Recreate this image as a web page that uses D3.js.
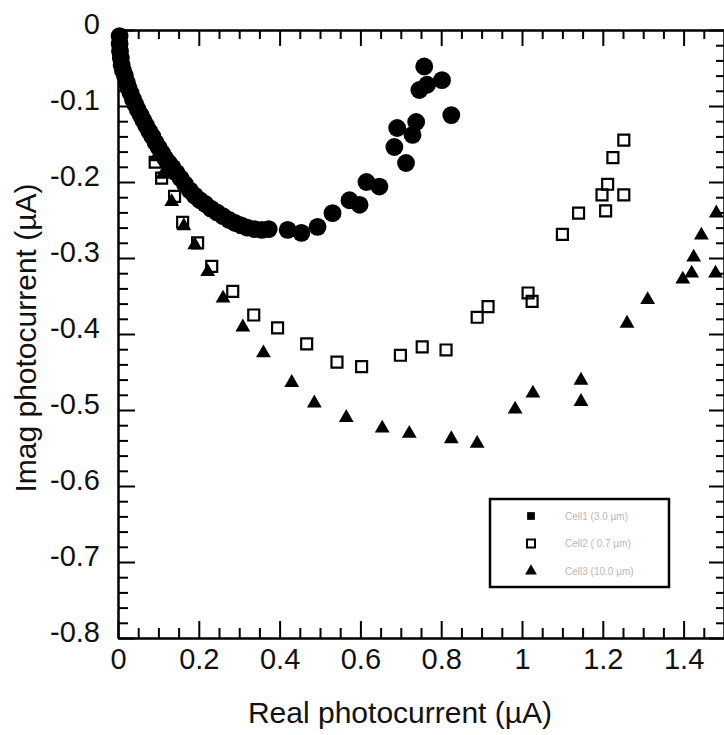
<!DOCTYPE html>
<html>
<head>
<meta charset="utf-8">
<script src="https://cdn.jsdelivr.net/npm/d3@7"></script>
<style>
  body { margin: 0; background: #fff; }
  text { font-family: "Liberation Sans", Arial, sans-serif; }
</style>
</head>
<body>
<div id="chart"></div>
<script>
// values: [real, imag] in µA
const cell1 = [
  [0.004,-0.008],[0.004,-0.018],[0.005,-0.028],[0.007,-0.037],[0.009,-0.046],[0.012,-0.053],
  [0.017,-0.06],[0.022,-0.069],[0.026,-0.076],[0.031,-0.083],[0.037,-0.091],[0.043,-0.098],
  [0.049,-0.105],[0.056,-0.112],[0.063,-0.119],[0.07,-0.126],[0.077,-0.133],[0.085,-0.14],
  [0.093,-0.148],[0.101,-0.155],[0.109,-0.162],[0.117,-0.169],[0.126,-0.175],[0.135,-0.181],
  [0.145,-0.188],[0.155,-0.195],[0.166,-0.203],[0.178,-0.211],[0.19,-0.218],[0.203,-0.224],
  [0.216,-0.229],[0.23,-0.235],[0.245,-0.24],[0.26,-0.245],[0.275,-0.25],[0.29,-0.254],
  [0.305,-0.257],[0.32,-0.26],[0.338,-0.262],[0.356,-0.263],[0.373,-0.262],
  [0.42,-0.263],[0.454,-0.267],[0.494,-0.259],[0.531,-0.241],[0.573,-0.224],[0.598,-0.23],
  [0.615,-0.2],[0.647,-0.206],[0.684,-0.154],[0.713,-0.175],[0.691,-0.129],[0.729,-0.138],
  [0.738,-0.121],[0.746,-0.079],[0.758,-0.048],[0.765,-0.072],[0.802,-0.066],[0.825,-0.112]
];
const cell2 = [
  [0.092,-0.174],[0.108,-0.195],[0.14,-0.219],[0.16,-0.253],[0.197,-0.28],[0.232,-0.311],
  [0.284,-0.344],[0.336,-0.375],[0.395,-0.392],[0.467,-0.413],[0.542,-0.437],[0.603,-0.443],
  [0.699,-0.428],[0.753,-0.417],[0.812,-0.421],[0.889,-0.378],[0.916,-0.364],[1.015,-0.346],
  [1.025,-0.357],[1.1,-0.269],[1.14,-0.241],[1.198,-0.217],[1.207,-0.238],[1.212,-0.203],
  [1.225,-0.168],[1.252,-0.145],[1.252,-0.217]
];
const cell3 = [
  [0.095,-0.167],[0.111,-0.19],[0.133,-0.226],[0.163,-0.258],[0.19,-0.283],[0.222,-0.318],
  [0.26,-0.353],[0.309,-0.391],[0.36,-0.425],[0.43,-0.464],[0.486,-0.491],[0.565,-0.51],
  [0.654,-0.524],[0.721,-0.531],[0.825,-0.538],[0.889,-0.544],[0.983,-0.499],[1.027,-0.478],
  [1.146,-0.461],[1.146,-0.489],[1.26,-0.386],[1.311,-0.355],[1.398,-0.328],[1.42,-0.32],
  [1.425,-0.299],[1.444,-0.27],[1.479,-0.32],[1.481,-0.241]
];
const xTicks = [0, 0.2, 0.4, 0.6, 0.8, 1, 1.2, 1.4];
const xMinor = [0.05,0.1,0.15,0.25,0.3,0.35,0.45,0.5,0.55,0.65,0.7,0.75,0.85,0.9,0.95,1.05,1.1,1.15,1.25,1.3,1.35,1.45];
const yTicks = [0, -0.1, -0.2, -0.3, -0.4, -0.5, -0.6, -0.7, -0.8];
const yMinor = [-0.02,-0.04,-0.06,-0.08,-0.12,-0.14,-0.16,-0.18,-0.22,-0.24,-0.26,-0.28,
  -0.32,-0.34,-0.36,-0.38,-0.42,-0.44,-0.46,-0.48,-0.52,-0.54,-0.56,-0.58,
  -0.62,-0.64,-0.66,-0.68,-0.72,-0.74,-0.76,-0.78];
const legendLabels = ["Cell1 (3.0 µm)", "Cell2 ( 0.7 µm)", "Cell3 (10.0 µm)"];

const W = 724, H = 735;
const svg = d3.select("#chart").append("svg")
  .attr("width", W).attr("height", H);

const x = d3.scaleLinear().domain([0, 1.5]).range([118, 724]);
const y = d3.scaleLinear().domain([-0.8, 0]).range([638, 30]);
const fmt = d => d === 0 ? "0" : String(d);

function styleAxis(g) {
  g.selectAll("path,line").attr("stroke", "#000").attr("stroke-width", 2);
}

// bottom axis (ticks pointing up into the plot)
svg.append("g").attr("transform", `translate(0,${y(-0.8)})`)
  .call(d3.axisTop(x).tickValues(xMinor).tickSize(10).tickSizeOuter(0).tickFormat(""))
  .call(styleAxis);
svg.append("g").attr("transform", `translate(0,${y(-0.8)})`)
  .call(d3.axisTop(x).tickValues(xTicks).tickSize(17).tickSizeOuter(0).tickFormat(""))
  .call(styleAxis);
svg.append("g").attr("transform", `translate(0,${y(-0.8)})`)
  .call(d3.axisBottom(x).tickValues(xTicks).tickSize(0).tickPadding(10).tickFormat(fmt))
  .call(g => g.select(".domain").remove())
  .call(g => g.selectAll("text").attr("font-size", 29).attr("fill", "#111")
    .attr("font-family", "'Liberation Sans', Arial, sans-serif"));

// top axis (ticks pointing down)
svg.append("g").attr("transform", `translate(0,${y(0)})`)
  .call(d3.axisBottom(x).tickValues(xMinor).tickSize(9).tickSizeOuter(0).tickFormat(""))
  .call(styleAxis);
svg.append("g").attr("transform", `translate(0,${y(0)})`)
  .call(d3.axisBottom(x).tickValues(xTicks).tickSize(16).tickSizeOuter(0).tickFormat(""))
  .call(styleAxis);

// left axis (ticks pointing right)
svg.append("g").attr("transform", `translate(${x(0)},0)`)
  .call(d3.axisRight(y).tickValues(yMinor).tickSize(10).tickSizeOuter(0).tickFormat(""))
  .call(styleAxis);
svg.append("g").attr("transform", `translate(${x(0)},0)`)
  .call(d3.axisRight(y).tickValues(yTicks).tickSize(17).tickSizeOuter(0).tickFormat(""))
  .call(styleAxis);
svg.append("g").attr("transform", `translate(${x(0) - 18},-6)`)
  .call(d3.axisLeft(y).tickValues(yTicks).tickSize(0).tickPadding(0).tickFormat(fmt))
  .call(g => g.select(".domain").remove())
  .call(g => g.selectAll("text").attr("font-size", 29).attr("fill", "#111")
    .attr("font-family", "'Liberation Sans', Arial, sans-serif"));

// right axis (ticks pointing left)
svg.append("g").attr("transform", `translate(${x(1.5)},0)`)
  .call(d3.axisLeft(y).tickValues(yMinor).tickSize(8).tickSizeOuter(0).tickFormat(""))
  .call(styleAxis);
svg.append("g").attr("transform", `translate(${x(1.5)},0)`)
  .call(d3.axisLeft(y).tickValues(yTicks).tickSize(15).tickSizeOuter(0).tickFormat(""))
  .call(styleAxis);

// axis titles
svg.append("text")
  .attr("x", 400).attr("y", 723)
  .attr("text-anchor", "middle")
  .attr("font-size", 30)
  .attr("fill", "#111")
  .text("Real photocurrent (µA)");
svg.append("text")
  .attr("transform", "translate(36,338) rotate(-90)")
  .attr("text-anchor", "middle")
  .attr("font-size", 30)
  .attr("fill", "#111")
  .text("Imag photocurrent (µA)");

// markers
const tri = d3.symbol().type(d3.symbolTriangle).size(95);
const sq = d3.symbol().type(d3.symbolSquare).size(120);
const circ = d3.symbol().type(d3.symbolCircle).size(250);

svg.append("g").selectAll("path").data(cell3).enter().append("path")
  .attr("d", tri)
  .attr("transform", d => `translate(${x(d[0])},${y(d[1])})`)
  .attr("fill", "#000");

svg.append("g").selectAll("path").data(cell2).enter().append("path")
  .attr("d", sq)
  .attr("transform", d => `translate(${x(d[0])},${y(d[1])})`)
  .attr("fill", "none")
  .attr("stroke", "#000")
  .attr("stroke-width", 2.2);

svg.append("g").selectAll("path").data(cell1).enter().append("path")
  .attr("d", circ)
  .attr("transform", d => `translate(${x(d[0])},${y(d[1])})`)
  .attr("fill", "#000");

// legend
const lg = svg.append("g");
lg.append("rect")
  .attr("x", 490).attr("y", 499)
  .attr("width", 179).attr("height", 88)
  .attr("fill", "#fff")
  .attr("stroke", "#000")
  .attr("stroke-width", 2.5);
const legSyms = [
  {s: d3.symbol().type(d3.symbolSquare).size(60), fill: "#000", stroke: "none"},
  {s: d3.symbol().type(d3.symbolSquare).size(64), fill: "#fff", stroke: "#000"},
  {s: d3.symbol().type(d3.symbolTriangle).size(60), fill: "#000", stroke: "none"}
];
legendLabels.forEach((t, i) => {
  const cy = 516 + i * 27.5;
  lg.append("path")
    .attr("d", legSyms[i].s)
    .attr("transform", `translate(531,${cy})`)
    .attr("fill", legSyms[i].fill)
    .attr("stroke", legSyms[i].stroke)
    .attr("stroke-width", 2);
  lg.append("text")
    .attr("x", 565).attr("y", cy + 3.5)
    .attr("font-size", 10)
    .attr("fill", "#b8b8b8")
    .text(t);
});
</script>
</body>
</html>
